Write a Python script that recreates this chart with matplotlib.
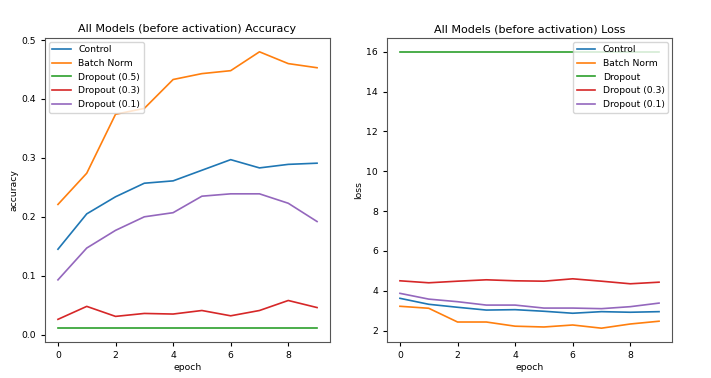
import numpy as np
import matplotlib
matplotlib.use('Agg')
from matplotlib import pyplot as plt

epochs = np.arange(10)

acc_control = [0.145, 0.205, 0.234, 0.257, 0.261, 0.279, 0.297, 0.283, 0.289, 0.291]
acc_batchnorm = [0.221, 0.274, 0.374, 0.384, 0.433, 0.443, 0.448, 0.480, 0.460, 0.453]
acc_dropout_05 = [0.011] * 10
acc_dropout_03 = [0.026, 0.048, 0.031, 0.036, 0.035, 0.041, 0.032, 0.041, 0.058, 0.046]
acc_dropout_01 = [0.093, 0.147, 0.177, 0.200, 0.207, 0.235, 0.239, 0.239, 0.223, 0.192]

loss_control = [3.62, 3.32, 3.17, 3.03, 3.05, 2.97, 2.87, 2.95, 2.92, 2.95]
loss_batchnorm = [3.22, 3.12, 2.43, 2.43, 2.22, 2.18, 2.28, 2.12, 2.33, 2.47]
loss_dropout_05 = [16.0] * 10
loss_dropout_03 = [4.50, 4.40, 4.48, 4.55, 4.50, 4.48, 4.60, 4.48, 4.35, 4.43]
loss_dropout_01 = [3.87, 3.58, 3.45, 3.28, 3.28, 3.13, 3.13, 3.10, 3.20, 3.38]

acc_labels = ['Control', 'Batch Norm', 'Dropout (0.5)', 'Dropout (0.3)', 'Dropout (0.1)']
loss_labels = ['Control', 'Batch Norm', 'Dropout', 'Dropout (0.3)', 'Dropout (0.1)']

plt.rcParams['font.size'] = 6.7
plt.rcParams['axes.edgecolor'] = '#555555'
plt.rcParams['xtick.major.size'] = 3
plt.rcParams['ytick.major.size'] = 3
plt.rcParams['lines.linewidth'] = 1.2

fig = plt.figure(figsize=(7.11, 3.78), dpi=100)
ax1 = fig.add_axes([45/711, 1-342/378, 285/711, 304/378])
ax2 = fig.add_axes([387/711, 1-342/378, 285/711, 304/378])

for vals, lab in zip([acc_control, acc_batchnorm, acc_dropout_05, acc_dropout_03, acc_dropout_01], acc_labels):
    ax1.plot(epochs, vals, label=lab)
ax1.set_title('All Models (before activation) Accuracy', fontsize=8, pad=4)
ax1.set_xlabel('epoch', labelpad=2)
ax1.set_ylabel('accuracy', labelpad=2)
ax1.legend(loc='upper left', borderaxespad=0.4)

for vals, lab in zip([loss_control, loss_batchnorm, loss_dropout_05, loss_dropout_03, loss_dropout_01], loss_labels):
    ax2.plot(epochs, vals, label=lab)
ax2.set_title('All Models (before activation) Loss', fontsize=8, pad=4)
ax2.set_xlabel('epoch', labelpad=2)
ax2.set_ylabel('loss', labelpad=2)
ax2.legend(loc='upper right', borderaxespad=0.4)

fig.savefig('out.png')
